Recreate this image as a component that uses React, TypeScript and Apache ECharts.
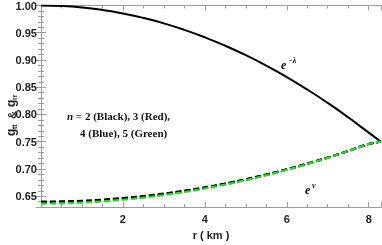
import React, { useEffect, useRef } from "react";
import * as echarts from "echarts";

const rValues = [0, 0.5, 1, 1.5, 2, 2.5, 3, 3.5, 4, 4.5, 5, 5.5, 6, 6.5, 7, 7.5, 8, 8.3];
const eLambda = [1.0, 0.9991, 0.9964, 0.9918, 0.9854, 0.9772, 0.9672, 0.9553, 0.9416, 0.9261, 0.9088, 0.8896, 0.8686, 0.8458, 0.8212, 0.7948, 0.7666, 0.75];
const eNuBlack = [0.64, 0.6404, 0.6416, 0.6436, 0.6465, 0.6502, 0.6547, 0.6601, 0.6663, 0.6733, 0.6812, 0.6899, 0.6994, 0.7098, 0.721, 0.733, 0.7459, 0.75];
const eNuRed = [0.6392, 0.6396, 0.6408, 0.6429, 0.6458, 0.6495, 0.6541, 0.6595, 0.6657, 0.6728, 0.6807, 0.6895, 0.6991, 0.7095, 0.7208, 0.7329, 0.7458, 0.75];
const eNuBlue = [0.6382, 0.6386, 0.6399, 0.642, 0.645, 0.6488, 0.6534, 0.6589, 0.6652, 0.6723, 0.6803, 0.6891, 0.6988, 0.7093, 0.7206, 0.7328, 0.7458, 0.75];
const eNuGreen = [0.6365, 0.6369, 0.6382, 0.6404, 0.6435, 0.6474, 0.6521, 0.6577, 0.6641, 0.6714, 0.6796, 0.6885, 0.6983, 0.709, 0.7204, 0.7327, 0.7457, 0.75];

const xTitle = "r ( km )";
const legendLine2 = "4 (Blue), 5 (Green)";

const pairs = (ys: number[]) => rValues.map((r, i) => [r, ys[i]]);

const frameColor = "#9a9a9a";
const sans = "Liberation Sans, Arial, sans-serif";
const serif = "Liberation Serif, Times New Roman, serif";

export default function App() {
  const ref = useRef<HTMLDivElement>(null);
  useEffect(() => {
    if (!ref.current) return;
    const chart = echarts.init(ref.current, undefined, { renderer: "svg" });
    const axisCommon = {
      type: "value" as const,
      axisLine: { show: true, lineStyle: { color: frameColor, width: 1 } },
      axisTick: { show: true, inside: true, length: 5, lineStyle: { color: frameColor } },
      minorTick: { show: true, length: 3, lineStyle: { color: frameColor } },
      splitLine: { show: false },
    };
    const dashedSeries = (name: string, data: number[], color: string, z: number) => ({
      name,
      type: "line",
      data: pairs(data),
      smooth: true,
      showSymbol: false,
      z,
      lineStyle: { color, width: 2.2, type: [6, 3] },
    });
    chart.setOption({
      animation: false,
      grid: { left: 41, right: 1, top: 5, bottom: 34 },
      xAxis: [
        {
          ...axisCommon,
          min: 0,
          max: 8.3,
          interval: 2,
          minorTick: { ...axisCommon.minorTick, splitNumber: 4 },
          axisLabel: {
            color: "#222",
            fontFamily: sans,
            fontWeight: "bold",
            fontSize: 11,
            margin: 6,
            showMaxLabel: false,
            formatter: (v: number) => (v === 0 || v > 8.1 ? "" : String(v)),
          },
          name: xTitle,
          nameLocation: "middle",
          nameGap: 21,
          nameTextStyle: { color: "#222", fontFamily: sans, fontWeight: "bold", fontSize: 11 },
        },
        {
          ...axisCommon,
          position: "top",
          min: 0,
          max: 8.3,
          interval: 2,
          minorTick: { ...axisCommon.minorTick, splitNumber: 4 },
          axisLabel: { show: false },
        },
      ],
      yAxis: [
        {
          ...axisCommon,
          min: 0.63,
          max: 1.0,
          splitNumber: 7,
          minorTick: { ...axisCommon.minorTick, splitNumber: 5 },
          axisLabel: {
            color: "#222",
            fontFamily: sans,
            fontWeight: "bold",
            fontSize: 11,
            margin: 4,
            showMinLabel: false,
            formatter: (v: number) => v.toFixed(2),
          },
        },
        {
          ...axisCommon,
          position: "right",
          min: 0.63,
          max: 1.0,
          splitNumber: 7,
          minorTick: { ...axisCommon.minorTick, splitNumber: 5 },
          axisLabel: { show: false },
        },
      ],
      series: [
        {
          name: "e^-lambda",
          type: "line",
          data: pairs(eLambda),
          smooth: true,
          showSymbol: false,
          z: 5,
          lineStyle: { color: "#000", width: 2 },
        },
        dashedSeries("n=3", eNuRed, "#cc1f1f", 2),
        dashedSeries("n=4", eNuBlue, "#2233cc", 3),
        dashedSeries("n=2", eNuBlack, "#000000", 4),
        dashedSeries("n=5", eNuGreen, "#22dd22", 5),
      ],
      graphic: [
        {
          type: "text",
          left: 67,
          top: 110,
          style: {
            text: "{i|n} = 2 (Black), 3 (Red),",
            fontFamily: serif,
            fontWeight: "bold",
            fontSize: 11,
            fill: "#111",
            rich: { i: { fontStyle: "italic", fontFamily: serif, fontWeight: "bold", fontSize: 11 } },
          },
        },
        {
          type: "text",
          left: 80,
          top: 127,
          style: { text: legendLine2, fontFamily: serif, fontWeight: "bold", fontSize: 11, fill: "#111" },
        },
        {
          type: "text",
          x: 281,
          y: 59,
          style: { text: "e", fontFamily: serif, fontWeight: "bold", fontStyle: "italic", fontSize: 12, fill: "#111" },
        },
        {
          type: "text",
          x: 288,
          y: 56,
          style: { text: "\u2212\u03bb", fontFamily: serif, fontWeight: "bold", fontStyle: "italic", fontSize: 8, fill: "#111" },
        },
        {
          type: "text",
          x: 305,
          y: 184,
          style: { text: "e", fontFamily: serif, fontWeight: "bold", fontStyle: "italic", fontSize: 12, fill: "#111" },
        },
        {
          type: "text",
          x: 312,
          y: 181,
          style: { text: "\u03bd", fontFamily: serif, fontWeight: "bold", fontStyle: "italic", fontSize: 8, fill: "#111" },
        },
        {
          type: "group",
          x: 5,
          y: 136,
          rotation: Math.PI / 2,
          children: [
            { type: "text", x: 0, y: 0, style: { text: "g", fontFamily: sans, fontWeight: "bold", fontSize: 12, fill: "#222" } },
            { type: "text", x: 7, y: 6, style: { text: "tt", fontFamily: sans, fontWeight: "bold", fontSize: 7, fill: "#222" } },
            { type: "text", x: 17, y: 1, style: { text: "&", fontFamily: sans, fontWeight: "bold", fontSize: 11, fill: "#222" } },
            { type: "text", x: 29, y: 0, style: { text: "g", fontFamily: sans, fontWeight: "bold", fontSize: 12, fill: "#222" } },
            { type: "text", x: 36, y: 6, style: { text: "rr", fontFamily: sans, fontWeight: "bold", fontSize: 7, fill: "#222" } },
          ],
        },
      ],
    });
    return () => chart.dispose();
  }, []);
  return <div ref={ref} style={{ position: "fixed", left: 0, top: 0, width: 382, height: 245 }} />;
}
